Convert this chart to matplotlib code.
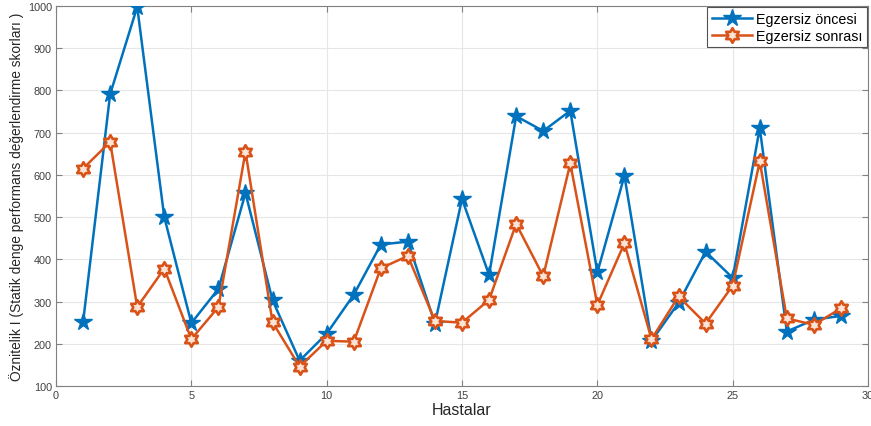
import numpy as np
import matplotlib
matplotlib.use("Agg")
import matplotlib.pyplot as plt
from matplotlib.path import Path

plt.rcParams['font.family'] = ['Liberation Sans', 'DejaVu Sans']

patients = list(range(1, 30))
before = [251, 791, 998, 500, 249, 330, 557, 303, 160, 224, 316, 435, 442, 248, 543,
          363, 739, 704, 752, 369, 598, 207, 297, 418, 356, 711, 229, 257, 266]
after = [615, 678, 287, 378, 211, 287, 655, 251, 146, 207, 205, 379, 408, 254, 250,
         304, 484, 360, 627, 292, 438, 211, 312, 248, 338, 632, 260, 245, 284]

x_ticks = [0, 5, 10, 15, 20, 25, 30]
y_ticks = [100, 200, 300, 400, 500, 600, 700, 800, 900, 1000]

blue = '#0072BD'
orange = '#D95319'

# hexagram marker path
def hexagram():
    pts = []
    for k in range(12):
        ang = np.pi / 2 + k * np.pi / 6
        r = 1.0 if k % 2 == 0 else 0.577
        pts.append((r * np.cos(ang), r * np.sin(ang)))
    pts.append(pts[0])
    codes = [Path.MOVETO] + [Path.LINETO] * 11 + [Path.CLOSEPOLY]
    return Path(pts, codes)

fig = plt.figure(figsize=(8.71, 4.27), dpi=100)
ax = fig.add_axes([0.0643, 0.0937, 0.9323, 0.8899])

ax.plot(patients, before, color=blue, lw=1.8, marker='*', ms=13,
        mfc=blue, mec=blue, label='Egzersiz öncesi', zorder=3)
ax.plot(patients, after, color=orange, lw=1.8, marker=hexagram(), ms=10.5,
        mfc='#fbe3d6', mec=orange, mew=1.9, label='Egzersiz sonrası', zorder=3)

ax.set_xlim(0, 30)
ax.set_ylim(100, 1000)
ax.set_xticks(x_ticks)
ax.set_yticks(y_ticks)
ax.grid(True, color='#e6e6e6', lw=0.8)
ax.set_axisbelow(True)
for s in ax.spines.values():
    s.set_color('#808080')
    s.set_linewidth(0.8)
ax.tick_params(axis='both', labelsize=7.8, colors='#808080', labelcolor='#404040',
               direction='in', length=4, width=0.8, top=True, right=True, pad=3)
ax.set_xlabel('Hastalar', fontsize=11.5, color='#262626', labelpad=1)
ax.set_ylabel('Öznitelik I (Statik denge performans değerlendirme skorları )',
              fontsize=9.9, color='#262626', labelpad=3)

leg = ax.legend(loc='upper right', fontsize=10.3, frameon=True, fancybox=False,
                edgecolor='#262626', borderpad=0.3, labelspacing=0.2,
                handlelength=2.8, handletextpad=0.3, borderaxespad=0.1)
leg.get_frame().set_linewidth(0.8)

fig.savefig('out.png', dpi=100)
